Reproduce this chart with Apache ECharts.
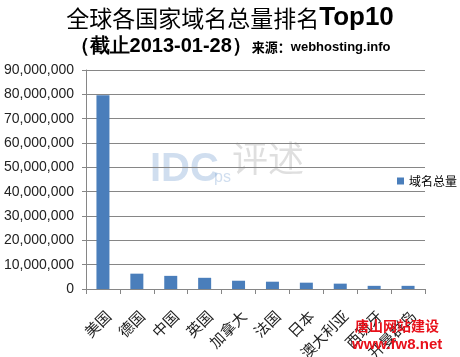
<!DOCTYPE html>
<html><head><meta charset="utf-8">
<script src="https://cdn.jsdelivr.net/npm/echarts@6/dist/echarts.min.js"></script>
<style>html,body{margin:0;padding:0;background:#fff}#c{width:460px;height:357px}</style>
</head><body><div id="c"></div>
<script>
var categories = ['美国','德国','中国','英国','加拿大','法国','日本','澳大利亚','西班牙','开曼群岛'];
var values = [79600000, 6300000, 5400000, 4600000, 3400000, 3000000, 2600000, 2200000, 1300000, 1300000];
var seriesName = '域名总量';
var chart = echarts.init(document.getElementById('c'));
chart.setOption({
  animation: false,
  backgroundColor: '#fff',
  title: {
    text: '全球各国家域名总量排名{b|Top10}',
    subtext: '{a|（截止2013-01-28）}{c|来源：}{d|webhosting.info}',
    left: 'center', top: 0, itemGap: 5,
    textStyle: { fontSize: 23, fontWeight: 'normal', color: '#000', fontFamily: 'Noto Sans CJK SC',
      rich: { b: { fontSize: 26, fontWeight: 'bold', fontFamily: 'Liberation Sans', color: '#000' } } },
    subtextStyle: { fontSize: 20, color: '#000',
      rich: {
        a: { fontSize: 20, fontWeight: 'bold', fontFamily: 'Liberation Sans', color: '#000' },
        c: { fontSize: 13, fontWeight: 'bold', fontFamily: 'Noto Sans CJK SC', color: '#000', padding: [3, 0, 0, 0] },
        d: { fontSize: 13, fontWeight: 'bold', fontFamily: 'Liberation Sans', color: '#000', padding: [3, 0, 0, 0] }
      } }
  },
  legend: {
    data: [seriesName], orient: 'vertical', left: 392, top: 170,
    itemWidth: 7, itemHeight: 7, itemGap: 4, icon: 'rect',
    textStyle: { fontSize: 12, color: '#000', fontFamily: 'Noto Sans CJK SC' }
  },
  grid: { left: 86, right: 35, top: 70, bottom: 68, containLabel: false, outerBoundsMode: 'none' },
  xAxis: {
    type: 'category', data: categories, boundaryGap: true,
    axisLine: { lineStyle: { color: '#868686', width: 1 } },
    axisTick: { show: true, alignWithLabel: false, length: 5, lineStyle: { color: '#868686' } },
    axisLabel: { rotate: 45, interval: 0, fontSize: 15, color: '#222', margin: 19,
      align: 'right', verticalAlign: 'top', fontFamily: 'Noto Sans CJK SC' }
  },
  yAxis: {
    type: 'value', min: 0, max: 90000000, interval: 10000000,
    axisLine: { show: true, lineStyle: { color: '#868686' } },
    axisTick: { show: true, length: 4, lineStyle: { color: '#868686' } },
    splitLine: { lineStyle: { color: '#868686', width: 1 } },
    axisLabel: { fontSize: 14, color: '#222', margin: 12, fontFamily: 'Liberation Sans',
      formatter: function (v) { return v.toString().replace(/\B(?=(\d{3})+(?!\d))/g, ','); } }
  },
  series: [{
    name: seriesName, type: 'bar', data: values, barWidth: 13,
    itemStyle: { color: '#4a7ebb' }
  }],
  graphic: [
    { type: 'text', left: 150, top: 150, z: 0,
      style: { text: 'IDC', fontSize: 40, fontWeight: 'bold', fontFamily: 'Liberation Sans', fill: 'rgba(120,160,210,0.35)' } },
    { type: 'text', left: 214, top: 170, z: 0,
      style: { text: 'ps', fontSize: 16, fontFamily: 'Liberation Sans', fill: 'rgba(120,160,210,0.35)' } },
    { type: 'text', left: 232, top: 140, z: 0,
      style: { text: '评述', fontSize: 36, fontFamily: 'Noto Sans CJK SC', fill: 'rgba(150,150,150,0.3)' } },
    { type: 'text', left: 355, top: 319, z: 100,
      style: { text: '唐山网站建设', fontSize: 14, fontWeight: 'bold', fontFamily: 'Noto Sans CJK SC', fill: '#e8101a' } },
    { type: 'text', left: 352, top: 337, z: 100,
      style: { text: 'www.fw8.net', fontSize: 15, fontWeight: 'bold', fontFamily: 'Liberation Sans', fill: '#e8101a' } }
  ]
});
</script></body></html>
